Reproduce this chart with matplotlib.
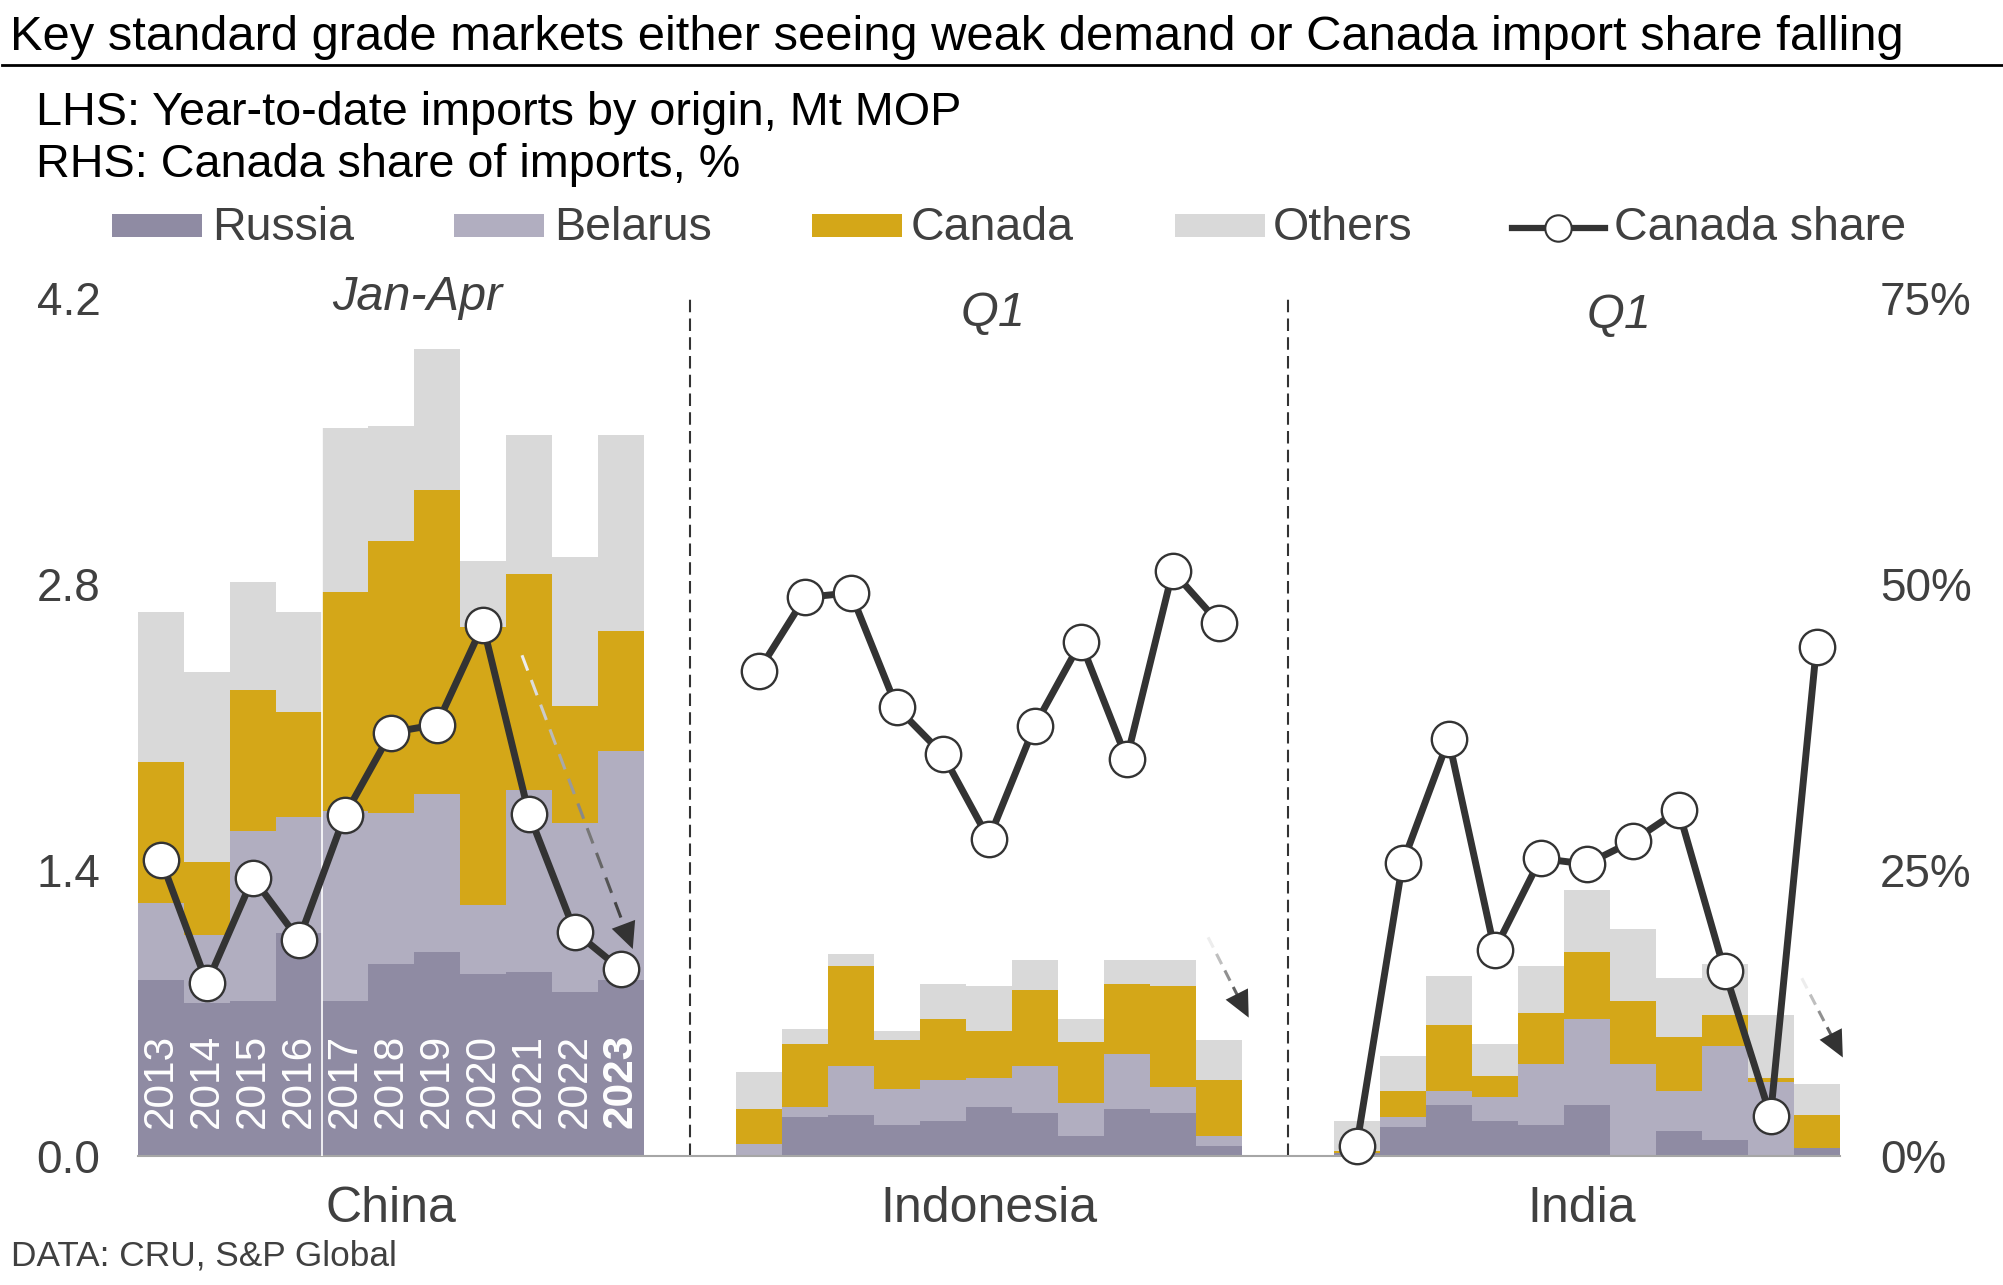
import numpy as np
import matplotlib
matplotlib.use("Agg")
import matplotlib.pyplot as plt
from matplotlib.patches import Rectangle
from matplotlib.lines import Line2D

plt.rcParams['font.family'] = ['Liberation Sans', 'DejaVu Sans']

years = ['2013', '2014', '2015', '2016', '2017', '2018', '2019', '2020', '2021', '2022', '2023']
countries = ['China', 'Indonesia', 'India']
periods = ['Jan-Apr', 'Q1', 'Q1']

# Mt MOP, year-to-date
china_russia = [0.86, 0.75, 0.76, 1.09, 0.76, 0.94, 1.00, 0.89, 0.90, 0.80, 0.86]
china_belarus = [0.38, 0.33, 0.83, 0.57, 0.93, 0.74, 0.77, 0.34, 0.89, 0.83, 1.12]
china_canada = [0.69, 0.36, 0.69, 0.51, 1.07, 1.33, 1.49, 1.36, 1.06, 0.57, 0.59]
china_others = [0.73, 0.93, 0.53, 0.49, 0.80, 0.56, 0.69, 0.32, 0.68, 0.73, 0.96]
china_share = [25.9, 15.1, 24.3, 18.9, 29.8, 37.0, 37.7, 46.4, 29.9, 19.6, 16.3]

indo_russia = [0.00, 0.19, 0.20, 0.15, 0.17, 0.24, 0.21, 0.10, 0.23, 0.21, 0.05]
indo_belarus = [0.06, 0.05, 0.24, 0.18, 0.20, 0.14, 0.23, 0.16, 0.27, 0.13, 0.05]
indo_canada = [0.17, 0.31, 0.49, 0.24, 0.30, 0.23, 0.37, 0.30, 0.34, 0.49, 0.27]
indo_others = [0.18, 0.07, 0.06, 0.04, 0.17, 0.22, 0.15, 0.11, 0.12, 0.13, 0.20]
indo_share = [42.4, 48.8, 49.2, 39.2, 35.1, 27.7, 37.6, 44.9, 34.7, 51.1, 46.6]

india_russia = [0.015, 0.14, 0.25, 0.17, 0.15, 0.25, 0.00, 0.12, 0.08, 0.00, 0.04]
india_belarus = [0.00, 0.05, 0.07, 0.12, 0.30, 0.42, 0.45, 0.20, 0.46, 0.36, 0.00]
india_canada = [0.008, 0.13, 0.32, 0.10, 0.25, 0.33, 0.31, 0.26, 0.15, 0.02, 0.16]
india_others = [0.146, 0.17, 0.24, 0.16, 0.23, 0.30, 0.35, 0.29, 0.25, 0.31, 0.15]
india_share = [0.9, 25.6, 36.4, 18.0, 26.0, 25.5, 27.5, 30.2, 16.2, 3.5, 44.5]

c_russia = '#8f8ba3'
c_belarus = '#b1aec0'
c_canada = '#d4a718'
c_others = '#d9d9d9'
c_line = '#333333'
c_text = '#404040'

W, H = 2003, 1285
fig = plt.figure(figsize=(W / 100, H / 100), dpi=100)
ax = fig.add_axes([138 / W, 129 / H, 1701.5 / W, 858.4 / H])
ax2 = ax.twinx()

groups = [
    (0, china_russia, china_belarus, china_canada, china_others, china_share),
    (13, indo_russia, indo_belarus, indo_canada, indo_others, indo_share),
    (26, india_russia, india_belarus, india_canada, india_others, india_share),
]

for off, ru, be, ca, ot, sh in groups:
    x = off + np.arange(len(years)) + 0.5
    ru, be, ca, ot = map(np.array, (ru, be, ca, ot))
    ax.bar(x, ru, width=1.0, color=c_russia, linewidth=0)
    ax.bar(x, be, width=1.0, bottom=ru, color=c_belarus, linewidth=0)
    ax.bar(x, ca, width=1.0, bottom=ru + be, color=c_canada, linewidth=0)
    ax.bar(x, ot, width=1.0, bottom=ru + be + ca, color=c_others, linewidth=0)
    ax2.plot(x, sh, color=c_line, lw=5, marker='o', markersize=25.5, mfc='white',
             mec=c_line, mew=1.7, clip_on=False, zorder=5)

# white separator inside China between 2016 and 2017
tot = np.array(china_russia) + np.array(china_belarus) + np.array(china_canada) + np.array(china_others)
ax.vlines(4, 0, max(tot[3], tot[4]), colors='white', lw=1.2, zorder=3)

# year labels inside China bars
for i, yr in enumerate(years):
    ax.text(i + 0.5, 0.135, yr, rotation=90, ha='center', va='bottom', color='white',
            fontsize=30.5, fontweight='bold' if yr == '2023' else 'normal', zorder=4)

# dividers
ax.vlines([12, 25], 0, 4.2, colors=c_line, lw=1.5, linestyles=(0, (6, 3)), zorder=2)

# section labels
sec_x = [6.08, 18.6, 32.2]
sec_y = [4.2, 4.12, 4.11]
for sx, sy, p in zip(sec_x, sec_y, periods):
    ax.text(sx, sy, p, ha='center', va='center', fontsize=35, style='italic',
            color=c_text, clip_on=False)
cx = [5.5, 18.5, 31.4]
for x0, name in zip(cx, countries):
    ax.text(x0, -0.26, name, ha='center', va='center', fontsize=36, color=c_text, clip_on=False)


# gradient dashed arrows
def grad_arrow(p0, p1, n=9):
    p0 = np.array(p0)
    p1 = np.array(p1)
    for k in range(n):
        t0 = k / n
        t1 = t0 + 0.62 / n
        a = p0 + (p1 - p0) * t0
        b = p0 + (p1 - p0) * t1
        g = 0.93 - 0.73 * (k / (n - 1))
        ax.plot([a[0], b[0]], [a[1], b[1]], color=(g, g, g), lw=2.2,
                solid_capstyle='butt', clip_on=False, zorder=6)
    ax.annotate('', xy=p1, xytext=p0 + (p1 - p0) * 0.9,
                arrowprops=dict(arrowstyle='-|>,head_length=0.95,head_width=0.45',
                                mutation_scale=20, color=c_line, lw=0),
                annotation_clip=False, zorder=6)


grad_arrow((8.35, 2.45), (10.78, 1.0), n=12)
grad_arrow((23.27, 1.07), (24.18, 0.665), n=5)
grad_arrow((36.18, 0.87), (37.1, 0.47), n=5)

ax.set_xlim(0, 37)
ax.set_ylim(0, 4.2)
ax2.set_ylim(0, 75)
ax.set_xticks([])
ax.set_yticks([0, 1.4, 2.8, 4.2])
ax.set_yticklabels(['0.0', '1.4', '2.8', '4.2'])
ax2.set_yticks([0, 25, 50, 75])
ax2.set_yticklabels(['0%', '25%', '50%', '75%'])
ax.tick_params(axis='y', length=0, pad=27, labelsize=33, labelcolor=c_text)
ax2.tick_params(axis='y', length=0, pad=29, labelsize=33, labelcolor=c_text)
for a in (ax, ax2):
    for s in a.spines.values():
        s.set_visible(False)
ax.spines['bottom'].set_visible(True)
ax.spines['bottom'].set_color('#a6a6a6')
ax.spines['bottom'].set_linewidth(1.5)

# title and subtitles
fig.text(10 / W, 1 - 50 / H, 'Key standard grade markets either seeing weak demand or Canada import share falling',
         fontsize=35.2, va='baseline', color='black')
fig.add_artist(Line2D([0.001, 1], [1 - 65 / H] * 2, lw=2, color='black'))
fig.text(36 / W, 1 - 125 / H, 'LHS: Year-to-date imports by origin, Mt MOP', fontsize=33.7, va='baseline', color='black')
fig.text(36 / W, 1 - 177 / H, 'RHS: Canada share of imports, %', fontsize=33.7, va='baseline', color='black')

# legend
leg_items = [('Russia', c_russia, 112, 212), ('Belarus', c_belarus, 454, 554),
             ('Canada', c_canada, 812, 911), ('Others', c_others, 1175, 1273)]
for lab, col, px, tx in leg_items:
    fig.add_artist(Rectangle((px / W, 1 - 237 / H), 90 / W, 23 / H, transform=fig.transFigure,
                             facecolor=col, edgecolor='none'))
    fig.text(tx / W, 1 - 240 / H, lab, fontsize=33.5, va='baseline', color=c_text)
fig.add_artist(Line2D([1512 / W, 1605 / W], [1 - 228 / H] * 2, lw=4.5, color=c_line))
fig.add_artist(Line2D([1558 / W], [1 - 228 / H], marker='o', markersize=19, mfc='white',
                      mec=c_line, mew=1.5))
fig.text(1614 / W, 1 - 240 / H, 'Canada share', fontsize=33.5, va='baseline', color=c_text)

fig.text(11 / W, 1 - 1265 / H, 'DATA: CRU, S&P Global', fontsize=25.4, va='baseline', color=c_text)

fig.savefig('out.png', dpi=100)
